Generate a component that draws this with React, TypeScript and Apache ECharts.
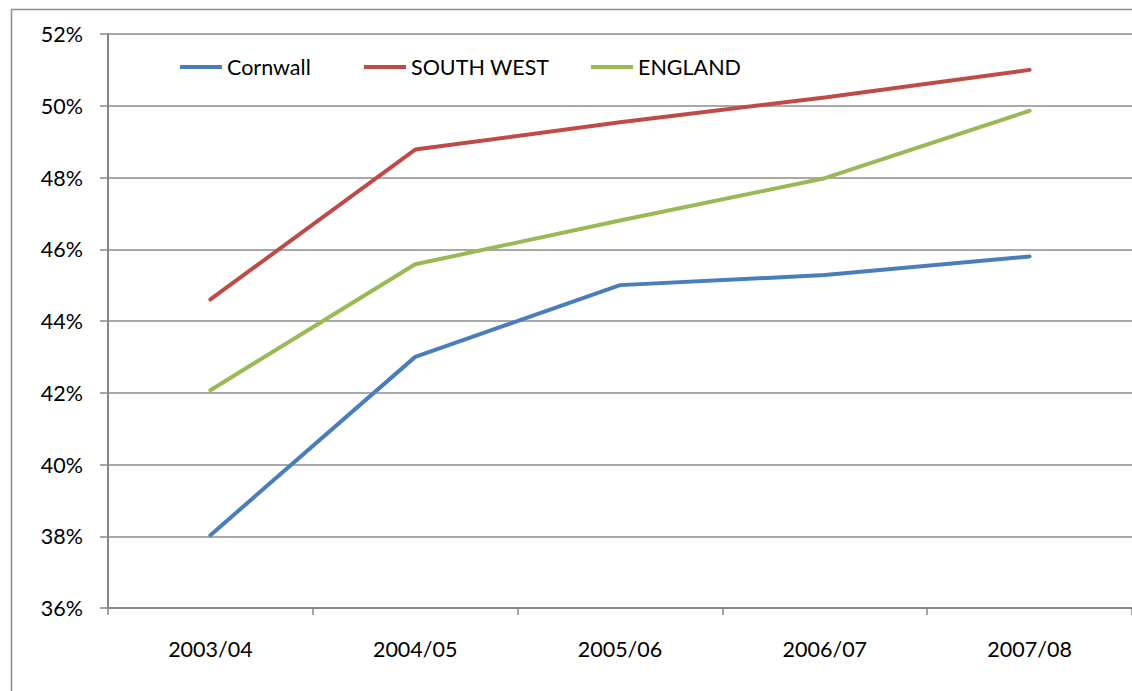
import React, { useEffect, useRef } from "react";
import * as echarts from "echarts";

const categories = ["2003/04", "2004/05", "2005/06", "2006/07", "2007/08"];
const cornwall = [38.03, 43.0, 45.0, 45.28, 45.8];
const southWest = [44.6, 48.78, 49.54, 50.23, 51.0];
const england = [42.07, 45.58, 46.8, 47.98, 49.86];
const seriesNames = ["Cornwall", "SOUTH WEST", "ENGLAND"];
const colors = ["#4A7EBB", "#BE4B48", "#98B954"];

const FONT = "Lato, 'Open Sans', sans-serif";

export default function App() {
  const ref = useRef<HTMLDivElement>(null);
  useEffect(() => {
    document.body.style.margin = "0";
    const chart = echarts.init(ref.current!, undefined, { renderer: "svg" });
    const data = [cornwall, southWest, england];
    const legendLefts = [180, 364, 591];
    chart.setOption({
      animation: false,
      backgroundColor: "#ffffff",
      textStyle: { fontFamily: FONT },
      grid: { left: 108, top: 34, right: 0, bottom: 83, containLabel: false },
      legend: seriesNames.map((n, i) => ({
        data: [n],
        left: legendLefts[i],
        top: 56,
        padding: 0,
        itemWidth: 42,
        itemHeight: 4,
        itemGap: 6,
        icon: "rect",
        textStyle: { fontFamily: FONT, fontSize: 21.5, color: "#000" },
        selectedMode: false,
      })),
      graphic: [
        {
          type: "rect",
          left: 9,
          top: 7,
          shape: { x: 0, y: 0, width: 1140, height: 700 },
          style: { fill: "none", stroke: "#8c8c8c", lineWidth: 1.5 },
          z: -1,
        },
      ],
      xAxis: {
        type: "category",
        data: categories,
        boundaryGap: true,
        axisLine: { show: true, lineStyle: { color: "#868686", width: 2 } },
        axisTick: { show: true, length: 7, alignWithLabel: false, lineStyle: { color: "#868686", width: 1.5 } },
        axisLabel: { color: "#000", fontSize: 21.5, margin: 30, fontFamily: FONT },
        splitLine: { show: false },
      },
      yAxis: {
        type: "value",
        min: 36,
        max: 52,
        interval: 2,
        axisLine: { show: true, lineStyle: { color: "#868686", width: 2 } },
        axisTick: { show: true, length: 8, lineStyle: { color: "#868686", width: 1.5 } },
        axisLabel: { color: "#000", fontSize: 21.5, margin: 25, fontFamily: FONT, formatter: (v: number) => v + "%" },
        splitLine: { show: true, lineStyle: { color: "#8c8c8c", width: 1.5 } },
      },
      series: seriesNames.map((n, i) => ({
        name: n,
        type: "line",
        data: data[i],
        symbol: "none",
        lineStyle: { color: colors[i], width: 4, cap: "round", join: "round" },
        itemStyle: { color: colors[i] },
      })),
    });
    return () => chart.dispose();
  }, []);
  return <div ref={ref} style={{ position: "absolute", left: 0, top: 0, width: 1132, height: 691 }} />;
}
